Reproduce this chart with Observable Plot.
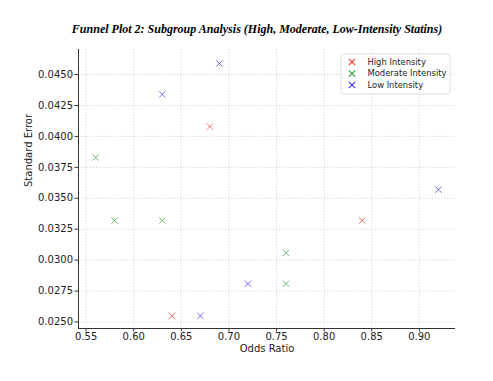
<!DOCTYPE html>
<html>
<head>
<meta charset="utf-8">
<script src="https://cdn.jsdelivr.net/npm/d3@7"></script>
<script src="https://cdn.jsdelivr.net/npm/@observablehq/plot@0.6"></script>
<style>
  html, body { margin: 0; padding: 0; background: #fff; }
  #chart { width: 493px; height: 381px; }
</style>
</head>
<body>
<div id="chart"></div>
<script>
const groups = ["High Intensity", "Moderate Intensity", "Low Intensity"];
const groupColors = ["red", "green", "blue"];
const highOR = [0.68, 0.84, 0.64];
const highSE = [0.0408, 0.0332, 0.0255];
const moderateOR = [0.56, 0.58, 0.63, 0.76, 0.76];
const moderateSE = [0.0383, 0.0332, 0.0332, 0.0306, 0.0281];
const lowOR = [0.69, 0.63, 0.92, 0.72, 0.67];
const lowSE = [0.0459, 0.0434, 0.0357, 0.0281, 0.0255];
const xTicks = [0.55, 0.60, 0.65, 0.70, 0.75, 0.80, 0.85, 0.90];
const yTicks = [0.0250, 0.0275, 0.0300, 0.0325, 0.0350, 0.0375, 0.0400, 0.0425, 0.0450];
const titleText = "Funnel Plot 2: Subgroup Analysis (High, Moderate, Low-Intensity Statins)";
const xLabel = "Odds Ratio";
const yLabel = "Standard Error";

const rows = [];
[[highOR, highSE], [moderateOR, moderateSE], [lowOR, lowSE]].forEach(([xs, ys], gi) => {
  xs.forEach((v, i) => rows.push({group: groups[gi], or: v, se: ys[i]}));
});

const xDomain = [0.542, 0.938];
const yDomain = [0.024475, 0.047025];
const font = "DejaVu Sans, sans-serif";

const plot = Plot.plot({
  width: 493,
  height: 381,
  marginLeft: 78,
  marginRight: 38,
  marginTop: 49,
  marginBottom: 53,
  style: {fontFamily: font, background: "#fff", color: "#222"},
  x: {domain: xDomain},
  y: {domain: yDomain},
  color: {domain: groups, range: groupColors},
  marks: [
    Plot.gridX(xTicks, {stroke: "#b0b0b0", strokeOpacity: 0.7, strokeDasharray: "1.2,1.8", strokeWidth: 0.8}),
    Plot.gridY(yTicks, {stroke: "#b0b0b0", strokeOpacity: 0.7, strokeDasharray: "1.2,1.8", strokeWidth: 0.8}),
    Plot.axisX(xTicks, {tickSize: 3.5, tickPadding: 1, fontSize: 10, tickFormat: d3.format(".2f"), label: null, stroke: "#333"}),
    Plot.axisY(yTicks, {tickSize: 3.5, tickPadding: 2, fontSize: 10, tickFormat: d3.format(".4f"), label: null, stroke: "#333"}),
    Plot.ruleX([xDomain[0]], {stroke: "#333", strokeWidth: 1}),
    Plot.ruleY([yDomain[0]], {stroke: "#333", strokeWidth: 1}),
    Plot.dot(rows, {x: "or", y: "se", stroke: "group", symbol: "times", r: 3, strokeWidth: 1, strokeOpacity: 0.55}),
    Plot.text([xLabel], {frameAnchor: "bottom", dy: 20, fontSize: 10, lineAnchor: "middle", fill: "#222"}),
    Plot.text([yLabel], {frameAnchor: "left", dx: -50, dy: -2, rotate: -90, fontSize: 10, lineAnchor: "middle", fill: "#222"}),
    Plot.text([titleText], {frameAnchor: "top", dy: -20, dx: -10, fontSize: 12, fontWeight: "bold", fontStyle: "italic", fontFamily: "Liberation Serif, Times New Roman, serif", lineAnchor: "middle", fill: "#000"})
  ]
});

document.getElementById("chart").appendChild(plot);

// legend
const svg = d3.select(plot);
const lg = svg.append("g").attr("font-family", font).attr("font-size", 8.4).attr("text-anchor", "start");
lg.append("rect").attr("x", 341).attr("y", 54).attr("width", 109).attr("height", 40)
  .attr("rx", 2.5).attr("fill", "#fff").attr("fill-opacity", 0.85).attr("stroke", "#d5d5d5").attr("stroke-width", 0.8);
groups.forEach((g, i) => {
  const cy = 62 + i * 11.5;
  const sym = d3.symbol(d3.symbolTimes, 28)();
  lg.append("path").attr("d", sym).attr("transform", `translate(352,${cy})`)
    .attr("fill", "none").attr("stroke", groupColors[i]).attr("stroke-width", 1.1).attr("stroke-opacity", 0.8);
  lg.append("text").attr("x", 367.5).attr("y", cy).attr("dy", "0.35em").attr("text-anchor", "start").attr("fill", "#222").text(g);
});
</script>
</body>
</html>
